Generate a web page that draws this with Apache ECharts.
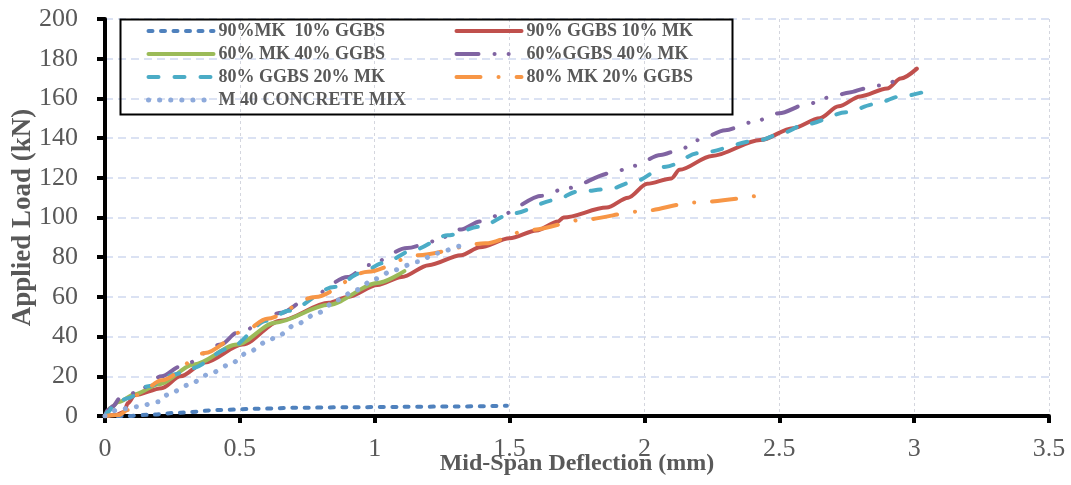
<!DOCTYPE html>
<html>
<head>
<meta charset="utf-8">
<script src="https://cdn.jsdelivr.net/npm/echarts@6/dist/echarts.min.js"></script>
<style>
html,body{margin:0;padding:0;background:#fff;}
#chart{width:1071px;height:485px;}
</style>
</head>
<body>
<div id="chart"></div>
<script>
// ---- Data (x = mid-span deflection mm, y = applied load kN) ----
var seriesNames = ['90%MK  10% GGBS','90% GGBS 10% MK','60% MK 40% GGBS','60%GGBS 40% MK','80% GGBS 20% MK','80% MK 20% GGBS','M 40 CONCRETE MIX'];
var mk90 = [[0,0],[0.08,0],[0.16,0.6],[0.28,1.7],[0.42,3],[0.55,3.6],[0.7,4.1],[0.9,4.4],[1.1,4.6],[1.3,4.8],[1.49,5.2]];
var ggbs90 = [[0,0],[0.04,0.5],[0.07,2],[0.085,6.5],[0.11,10.5],[0.21,14],[0.28,20],[0.37,27],[0.51,36],[0.65,48],[0.83,57],[0.9,60],[1.01,66],[1.1,70],[1.2,76],[1.32,81],[1.39,85],[1.5,89.5],[1.6,93.5],[1.68,98],[1.7,100],[1.86,105],[1.94,110],[2.01,117],[2.1,119.7],[2.13,124],[2.25,131],[2.43,139],[2.55,145],[2.65,150],[2.72,156],[2.8,161],[2.9,165],[2.95,170],[3.01,175]];
var mk60 = [[0,0],[0.02,4],[0.05,7],[0.11,11],[0.2,16],[0.33,26],[0.49,36],[0.63,47],[0.83,56],[1.01,67],[1.11,73]];
var ggbs60 = [[0,0],[0.01,3],[0.03,5],[0.055,9],[0.11,11.6],[0.21,20],[0.28,25],[0.43,36],[0.49,42],[0.655,52],[0.75,59],[0.9,70],[0.975,76],[1.12,84.6],[1.22,88],[1.32,94],[1.39,98],[1.46,101],[1.62,111],[1.71,114.7],[1.88,122.4],[1.96,126],[2.06,131.5],[2.13,134],[2.2,139],[2.3,144],[2.4,148],[2.5,152.5],[2.6,157],[2.7,161],[2.76,163],[2.82,165],[2.87,166.5],[2.95,170]];
var ggbs80 = [[0,0],[0.01,2],[0.04,6.5],[0.085,9],[0.16,15],[0.26,21],[0.32,24],[0.46,34],[0.6,48],[0.68,53],[0.85,65],[0.95,72],[1.03,77],[1.15,84],[1.27,91],[1.39,95.4],[1.51,102],[1.67,108.8],[1.75,113],[1.87,114.3],[1.96,118],[2.08,125.6],[2.2,132.4],[2.43,139],[2.5,142],[2.6,147],[2.75,153],[2.85,157],[2.95,161],[3.08,165]];
var mk80 = [[0,0],[0.05,0.5],[0.085,3],[0.12,10.6],[0.21,18],[0.37,31.7],[0.52,43],[0.6,49],[0.78,60],[0.975,72.7],[1.16,81],[1.41,87],[1.575,93.7],[1.785,99.1],[1.98,103],[2.19,107.6],[2.42,111]];
var m40 = [[0,0],[0.02,1],[0.04,3],[0.12,4.7],[0.2,7.2],[0.23,10.6],[0.31,15.6],[0.38,20.7],[0.46,25.7],[0.53,32],[0.6,37.4],[0.64,40.3],[0.71,46.3],[0.79,52],[0.86,58.4],[0.93,63.5],[1.0,69],[1.07,73.5],[1.16,77.7],[1.23,82],[1.32,85.6],[1.34,87]];

var allData = [mk90, ggbs90, mk60, ggbs60, ggbs80, mk80, m40];
var colors = ['#4f81bd','#c0504d','#9bbb59','#8064a2','#4bacc6','#f79646','#8eaadb'];
var dashes = [[4,8.5],'solid','solid',[22,16,0.1,14,0.1,16],[10,16],[24,18,0.1,18],[0.1,11]];
var widths = [4,4,4,4,4,4,5];

var serif = 'Liberation Serif';
var chart = echarts.init(document.getElementById('chart'));

var series = allData.map(function(d, i){
  return {
    name: seriesNames[i],
    type: 'line',
    data: d,
    symbol: 'none',
    smooth: 0.3,
    smoothMonotone: 'x',
    lineStyle: { color: colors[i], width: widths[i], type: dashes[i], cap: 'round' },
    itemStyle: { color: colors[i] },
    z: 3
  };
});

var legendData = seriesNames.map(function(n, i){
  return {
    name: n,
    itemStyle: { opacity: 0 },
    lineStyle: { color: colors[i], width: widths[i], type: dashes[i], cap: 'round', opacity: 1 }
  };
});

chart.setOption({
  backgroundColor: '#fff',
  animation: false,
  grid: { left: 105, right: 22, top: 19, bottom: 69, containLabel: false, outerBoundsMode: 'none' },
  legend: {
    data: legendData,
    left: 146, top: 22, width: 620, padding: 0,
    itemWidth: 65, itemHeight: 14, itemGap: 5,
    textStyle: { fontFamily: serif, fontWeight: 'bold', fontSize: 18, color: '#595959', width: 231, lineHeight: 18 }
  },
  graphic: [{
    type: 'rect', left: 118, top: 17, z: 10, silent: true,
    shape: { width: 612, height: 95 },
    style: { fill: 'none', stroke: '#000', lineWidth: 2 }
  }],
  xAxis: {
    type: 'value', min: 0, max: 3.5, interval: 0.5,
    name: 'Mid-Span Deflection (mm)', nameLocation: 'middle', nameGap: 36, nameMoveOverlap: false,
    nameTextStyle: { fontFamily: serif, fontWeight: 'bold', fontSize: 24, color: '#595959' },
    axisLine: { show: true, lineStyle: { color: '#000', width: 4 } },
    axisTick: { show: true, inside: false, length: 7, lineStyle: { color: '#000', width: 4 } },
    axisLabel: { margin: 20, fontFamily: serif, fontSize: 26, color: '#595959' },
    splitLine: { show: true, lineStyle: { color: '#d4d6de', width: 1, type: [3,3] } }
  },
  yAxis: {
    type: 'value', min: 0, max: 200, interval: 20,
    name: 'Applied Load (kN)', nameLocation: 'middle', nameGap: 68, nameMoveOverlap: false,
    nameTextStyle: { fontFamily: serif, fontWeight: 'bold', fontSize: 27, color: '#595959' },
    axisLine: { show: true, lineStyle: { color: '#000', width: 4 } },
    axisTick: { show: true, inside: false, length: 8, lineStyle: { color: '#000', width: 4 } },
    axisLabel: { margin: 27, fontFamily: serif, fontSize: 26, color: '#595959' },
    splitLine: { show: true, lineStyle: { color: '#dbe2f3', width: 2, type: [8,5] } }
  },
  series: series
});
</script>
</body>
</html>
